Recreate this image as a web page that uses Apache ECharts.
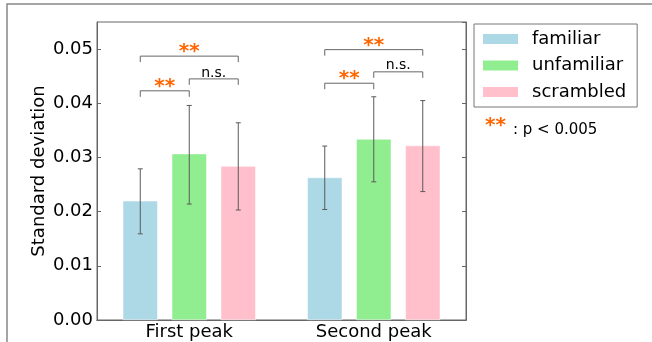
<!DOCTYPE html>
<html><head><meta charset="utf-8">
<script src="https://cdn.jsdelivr.net/npm/echarts@6/dist/echarts.min.js"></script>
<style>html,body{margin:0;padding:0;background:#fff}#c{width:652px;height:342px}</style>
</head><body><div id="c"></div>
<script>
const categories = ['First peak', 'Second peak'];
const seriesNames = ['familiar', 'unfamiliar', 'scrambled'];
const familiar = [0.0220, 0.0263];
const unfamiliar = [0.0307, 0.0334];
const scrambled = [0.0284, 0.0322];
const familiarErr = [[0.0159, 0.0279], [0.0204, 0.0321]];
const unfamiliarErr = [[0.0214, 0.0396], [0.0255, 0.0412]];
const scrambledErr = [[0.0203, 0.0364], [0.0237, 0.0405]];
// [category index, from bar, to bar, bracket level]
const brackets = [[0, 0, 1, 0.0423], [0, 1, 2, 0.0445], [0, 0, 2, 0.0487],
                  [1, 0, 1, 0.0437], [1, 1, 2, 0.0458], [1, 0, 2, 0.0499]];
const bracketLabels = ['**', 'n.s.', '**', '**', 'n.s.', '**'];
const yTicks = [0, 0.01, 0.02, 0.03, 0.04, 0.05];

const colors = ['#add8e6', '#90ee90', '#ffc0cb'];
const BAR_W = 35, STEP = 49;
const FONT = 'DejaVu Sans';

const chart = echarts.init(document.getElementById('c'));
const vals = [familiar, unfamiliar, scrambled];
const errs = [familiarErr, unfamiliarErr, scrambledErr];

const barSeries = seriesNames.map((n, i) => ({
  name: n, type: 'bar', data: vals[i], barWidth: BAR_W, barGap: '40%',
  itemStyle: { color: colors[i], borderColor: '#fff', borderWidth: 0.5 },
  xAxisIndex: 0, yAxisIndex: 0, z: 2
}));

const errSeries = errs.map((e, i) => ({
  type: 'custom', name: 'err' + i, xAxisIndex: 0, yAxisIndex: 0, z: 5,
  data: e.map((d, k) => [k, d[0], d[1]]),
  renderItem: function (params, api) {
    const lo = api.coord([api.value(0), api.value(1)]);
    const hi = api.coord([api.value(0), api.value(2)]);
    const x = lo[0] + (i - 1) * STEP;
    const st = { stroke: '#5a5a5a', lineWidth: 1 };
    return { type: 'group', children: [
      { type: 'line', shape: { x1: x, y1: lo[1], x2: x, y2: hi[1] }, style: st },
      { type: 'line', shape: { x1: x - 2.5, y1: lo[1], x2: x + 2.5, y2: lo[1] }, style: st },
      { type: 'line', shape: { x1: x - 2.5, y1: hi[1], x2: x + 2.5, y2: hi[1] }, style: st }
    ]};
  }
}));

const bracketSeries = {
  type: 'custom', name: 'brackets', xAxisIndex: 0, yAxisIndex: 0, z: 6,
  data: brackets.map(b => [b[0], b[3], b[1], b[2]]),
  renderItem: function (params, api) {
    const p = api.coord([api.value(0), api.value(1)]);
    const x1 = p[0] + (api.value(2) - 1) * STEP;
    const x2 = p[0] + (api.value(3) - 1) * STEP;
    const y = p[1];
    const lab = bracketLabels[params.dataIndex];
    const st = { stroke: '#666', lineWidth: 1, fill: null };
    const isStar = lab === '**';
    return { type: 'group', children: [
      { type: 'polyline', shape: { points: [[x1, y + 6], [x1, y], [x2, y], [x2, y + 6]] }, style: st },
      { type: 'text', x: (x1 + x2) / 2, y: isStar ? y + 6 : y + 1,
        style: { text: lab, align: 'center', verticalAlign: 'bottom',
          fill: isStar ? '#ff6600' : '#000',
          font: isStar ? 'bold 20px ' + FONT : '14px ' + FONT } }
    ]};
  }
};

chart.setOption({
  animation: false,
  textStyle: { fontFamily: FONT },
  grid: { left: 97, right: 186, top: 22, bottom: 22, show: true, borderColor: '#666', borderWidth: 1, containLabel: false },
  legend: {
    data: seriesNames, orient: 'vertical', left: 474, top: 24,
    itemWidth: 37, itemHeight: 12, itemGap: 6.5, icon: 'rect',
    padding: [5, 11, 5, 7], borderColor: '#777', borderWidth: 1, borderRadius: 0,
    textStyle: { fontSize: 18, lineHeight: 20, color: '#000', fontFamily: FONT, padding: [0, 0, 0, 8] }
  },
  xAxis: [
    { type: 'category', data: categories, position: 'bottom',
      axisLine: { lineStyle: { color: '#666' } },
      axisTick: { inside: true, alignWithLabel: true, length: 4, lineStyle: { color: '#666' } },
      axisLabel: { fontSize: 18, color: '#000', margin: 3, fontFamily: FONT } },
    { type: 'category', data: categories, position: 'top',
      axisLine: { lineStyle: { color: '#666' } },
      axisTick: { inside: true, alignWithLabel: true, length: 4, lineStyle: { color: '#666' } },
      axisLabel: { show: false } }
  ],
  yAxis: [
    { type: 'value', min: 0, max: 0.055, interval: 0.01,
      name: 'Standard deviation', nameLocation: 'middle', nameGap: 49, nameMoveOverlap: false,
      nameTextStyle: { fontSize: 18, color: '#000', fontFamily: FONT },
      axisLine: { show: true, lineStyle: { color: '#666' } },
      axisTick: { show: true, inside: true, length: 4, lineStyle: { color: '#666' } },
      splitLine: { show: false },
      axisLabel: { fontSize: 18, color: '#000', margin: 4, fontFamily: FONT, showMaxLabel: false,
        formatter: v => yTicks.some(t => Math.abs(t - v) < 1e-9) ? v.toFixed(2) : '' } },
    { type: 'value', min: 0, max: 0.055, interval: 0.01, position: 'right',
      axisLine: { show: true, lineStyle: { color: '#666' } },
      axisTick: { show: true, inside: true, length: 4, lineStyle: { color: '#666' } },
      splitLine: { show: false }, axisLabel: { show: false } }
  ],
  graphic: [
    { type: 'rect', shape: { x: 7, y: 4, width: 800, height: 500 },
      style: { fill: null, stroke: '#888', lineWidth: 1.5 }, silent: true },
    { type: 'text', left: 485, top: 116, style: { text: '**', fill: '#ff6600', font: 'bold 20px ' + FONT } },
    { type: 'text', left: 513, top: 123, style: { text: ': p < 0.005', fill: '#000', font: '15px ' + FONT } }
  ],
  series: [...barSeries, ...errSeries, bracketSeries]
});
</script></body></html>
